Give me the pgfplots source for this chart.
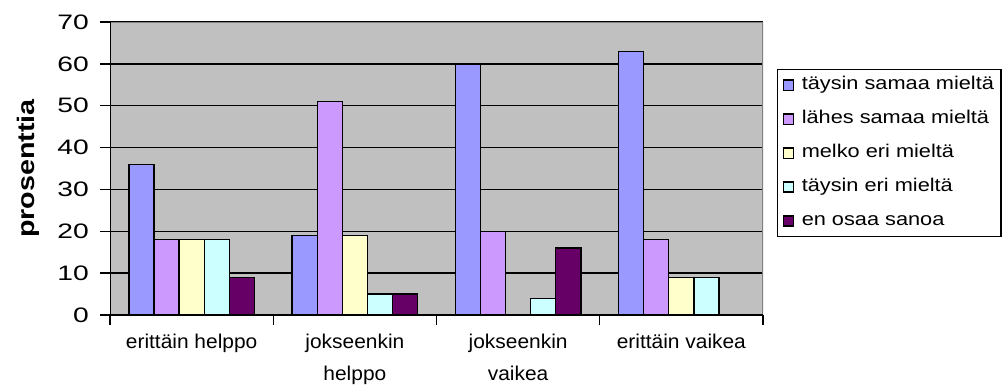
\documentclass[border=0pt]{standalone}
\usepackage{fontspec}
\setmainfont{Liberation Sans}
\newfontfamily\tickfam[FakeStretch=1.35]{Liberation Sans}
\newfontfamily\catfam[FakeStretch=1.05]{Liberation Sans}
\newfontfamily\legfam[FakeStretch=1.18]{Liberation Sans}
\newfontfamily\labfam[FakeStretch=1.2]{Liberation Sans}
\usepackage{pgfplots}
\pgfplotsset{compat=1.18}
\definecolor{c1}{HTML}{9999FF}
\definecolor{c2}{HTML}{CC99FF}
\definecolor{c3}{HTML}{FFFFCC}
\definecolor{c4}{HTML}{CCFFFF}
\definecolor{c5}{HTML}{660066}
\definecolor{bg}{HTML}{C0C0C0}
\definecolor{bord}{HTML}{808080}
\pgfplotsset{sqlegend/.style={legend image code/.code={\draw[##1, line width=1.2bp] (0bp,-5bp) rectangle (10bp,5bp);}}}
\begin{document}
\begin{tikzpicture}
\useasboundingbox (0,0) rectangle (1008bp,386bp);
\begin{axis}[
  at={(110bp,71bp)}, anchor=south west,
  scale only axis, width=653bp, height=293bp,
  ybar=0pt, bar width=0.1538,
  every axis plot/.append style={sqlegend, draw=black, line width=1.3bp},
  xmin=-0.5, xmax=3.5, ymin=0, ymax=70,
  ytick={0,10,...,70},
  xtick={-0.5,0.5,1.5,2.5,3.5},
  xticklabels={,,,,},
  extra x ticks={0,1,2,3},
  extra x tick labels={erittäin helppo,{jokseenkin\\helppo},{jokseenkin\\vaikea},erittäin vaikea},
  extra x tick style={tick style={draw=none}, xticklabel style={yshift=-5bp}},
  xticklabel style={font=\catfam\fontsize{20}{32}\selectfont, align=center, anchor=north, inner sep=0pt, yshift=-4bp},
  /pgf/number format/assume math mode=true,
  yticklabel style={font=\tickfam\fontsize{21}{21}\selectfont, anchor=east, inner sep=0pt, xshift=-11bp},
  tick align=outside, tick pos=left,
  major tick length=10bp,
  tick style={black, line width=1.3bp},
  ymajorgrids, major grid style={black, line width=1.3bp},
  axis line style={draw=none},
  axis background/.style={fill=bg},
  ylabel={prosenttia},
  ylabel style={font=\labfam\bfseries\fontsize{24}{24}\selectfont, at={(axis description cs:-0.1248,0.5)}, anchor=center},
  legend style={at={(1.0214,0.8396)}, anchor=north west, draw=black, line width=1.2bp,
    font=\legfam\fontsize{18.5}{18.5}\selectfont, inner sep=5bp, row sep=13bp,
    nodes={text height=13bp, text depth=4bp, inner sep=2bp},
    /tikz/every odd column/.append style={column sep=6bp},
    cells={anchor=west}},
]
\addplot[fill=c1] coordinates {(0,36) (1,19) (2,60) (3,63)};
\addplot[fill=c2] coordinates {(0,18) (1,51) (2,20) (3,18)};
\addplot[fill=c3] coordinates {(0,18) (1,19) (3,9)};
\addplot[fill=c4] coordinates {(0,18) (1,5) (2,4) (3,9)};
\addplot[fill=c5] coordinates {(0,9) (1,5) (2,16)};
\legend{täysin samaa mieltä, lähes samaa mieltä, melko eri mieltä, täysin eri mieltä, en osaa sanoa}
\draw[bord, line width=1.5bp] (rel axis cs:0,1) -- (rel axis cs:1,1) -- (rel axis cs:1,0);
\draw[black, line width=1.5bp] (rel axis cs:0,1) -- (rel axis cs:0,0) -- (rel axis cs:1,0);
\end{axis}
\end{tikzpicture}
\end{document}
